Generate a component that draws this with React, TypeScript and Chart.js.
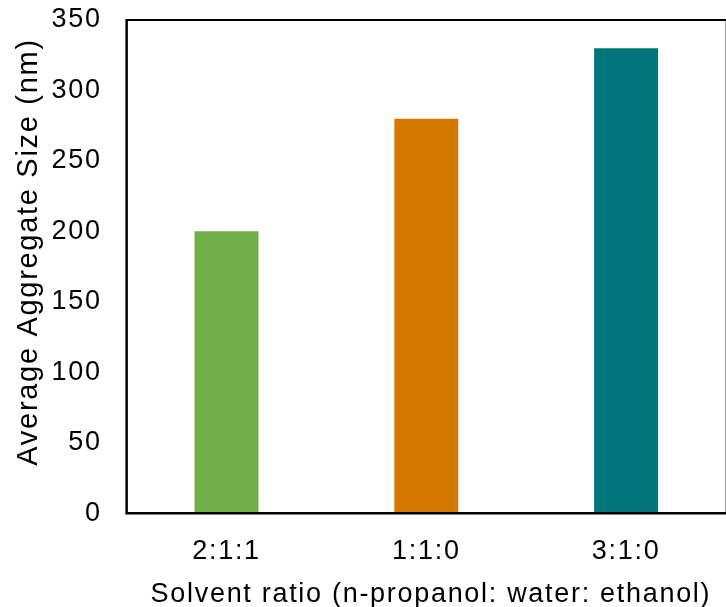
import React, { useEffect, useRef } from "react";
import { Chart, registerables } from "chart.js";

Chart.register(...registerables);

const categories = ["2:1:1", "1:1:0", "3:1:0"];
const sizes = [200, 280, 330];
const barColors = ["#70AD47", "#D57800", "#00747A"];
const yTicks = [0, 50, 100, 150, 200, 250, 300, 350];
const xTitle = " Solvent ratio (n-propanol: water: ethanol)";
const yTitle = "   Average Aggregate Size (nm)";

const framePlugin = {
  id: "frame",
  beforeDraw(chart: any) {
    chart.ctx.letterSpacing = "1.7px";
  },
  afterDraw(chart: any) {
    const { ctx, chartArea } = chart;
    const { left, right, top, bottom } = chartArea;
    ctx.save();
    ctx.strokeStyle = "#999999";
    ctx.lineWidth = 1;
    ctx.beginPath();
    ctx.moveTo(right - 0.5, top);
    ctx.lineTo(right - 0.5, bottom);
    ctx.stroke();
    ctx.strokeStyle = "#000000";
    ctx.lineWidth = 2;
    ctx.beginPath();
    ctx.moveTo(left, top);
    ctx.lineTo(right, top);
    ctx.stroke();
    ctx.lineWidth = 2.5;
    ctx.beginPath();
    ctx.moveTo(left, top - 1);
    ctx.lineTo(left, bottom);
    ctx.lineTo(right, bottom);
    ctx.stroke();
    ctx.restore();
  },
};

export default function App() {
  const ref = useRef<HTMLCanvasElement>(null);
  useEffect(() => {
    const font = "'Liberation Sans', Arial, sans-serif";
    const chart = new Chart(ref.current!, {
      type: "bar",
      data: {
        labels: categories,
        datasets: [
          {
            data: sizes,
            backgroundColor: barColors,
            borderWidth: 0,
            barPercentage: 0.32,
            categoryPercentage: 1,
          },
        ],
      },
      options: {
        animation: false,
        responsive: false,
        maintainAspectRatio: false,
        layout: { padding: { top: 20, right: 0, bottom: -4, left: 0 } },
        plugins: { legend: { display: false }, tooltip: { enabled: false } },
        scales: {
          x: {
            grid: { display: false },
            border: { display: false },
            ticks: { color: "#000", font: { family: font, size: 27 }, padding: 14 },
            title: {
              display: true,
              text: xTitle,
              color: "#000",
              font: { family: font, size: 27 },
              padding: { top: -3, bottom: 0 },
            },
          },
          y: {
            min: 0,
            max: 350,
            afterBuildTicks: (axis: any) => {
              axis.ticks = yTicks.map((v) => ({ value: v }));
            },
            afterFit: (axis: any) => {
              axis.paddingTop = 0;
              axis.paddingBottom = 0;
            },
            grid: { display: false },
            border: { display: false },
            ticks: { color: "#000", font: { family: font, size: 27 }, padding: 17 },
            title: {
              display: true,
              text: yTitle,
              color: "#000",
              font: { family: font, size: 29 },
              padding: { top: 12, bottom: -7.2 },
            },
          },
        },
      },
      plugins: [framePlugin],
    });
    return () => chart.destroy();
  }, []);
  return (
    <div style={{ position: "fixed", left: 0, top: 0, width: 726, height: 607, background: "#fff" }}>
      <canvas ref={ref} width={726} height={607} style={{ display: "block" }} />
    </div>
  );
}
